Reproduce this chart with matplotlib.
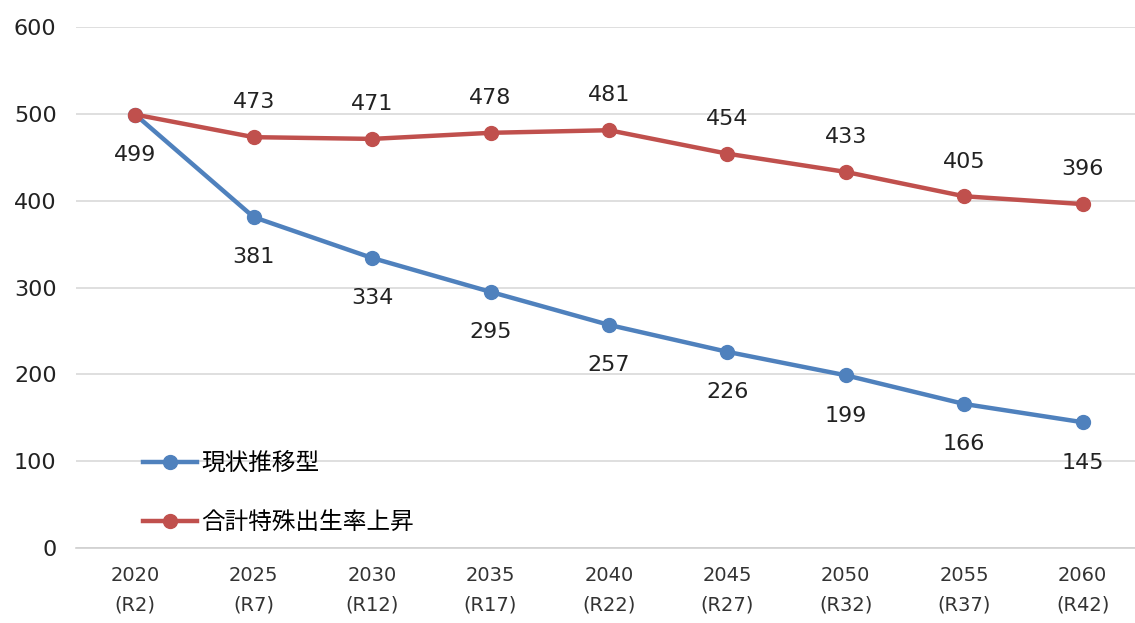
import matplotlib.pyplot as plt

plt.rcParams['font.family'] = ['DejaVu Sans', 'Noto Sans CJK JP']

years = ["2020", "2025", "2030", "2035", "2040", "2045", "2050", "2055", "2060"]
reiwa = ["(R2)", "(R7)", "(R12)", "(R17)", "(R22)", "(R27)", "(R32)", "(R37)", "(R42)"]
current_trend = [499, 381, 334, 295, 257, 226, 199, 166, 145]
birthrate_up = [499, 473, 471, 478, 481, 454, 433, 405, 396]

blue = '#4F81BD'
red = '#C0504D'

fig = plt.figure(figsize=(11.35, 6.23), dpi=100)
ax = fig.add_axes([0.067, 0.12, 0.939, 0.837])

x = list(range(len(years)))
ax.plot(x, current_trend, color=blue, lw=3.2, marker='o', ms=10, label='現状推移型', zorder=3)
ax.plot(x, birthrate_up, color=red, lw=3.2, marker='o', ms=10, label='合計特殊出生率上昇', zorder=3)

# labels: blue below, red above (the shared 2020 point shows only one)
for i, v in enumerate(current_trend):
    ax.annotate(str(v), (i, v), xytext=(0, -29), textcoords='offset points',
                ha='center', va='center', fontsize=16, color='#222222')
for i, v in enumerate(birthrate_up):
    if i == 0:
        continue
    ax.annotate(str(v), (i, v), xytext=(0, 25), textcoords='offset points',
                ha='center', va='center', fontsize=16, color='#222222')

ax.set_xlim(-0.5, len(years) - 0.5)
ax.set_ylim(0, 600)
ax.set_yticks(range(0, 601, 100))
ax.set_xticks(x)
ax.set_xticklabels([f"{y}\n{r}" for y, r in zip(years, reiwa)], fontsize=14,
                   linespacing=1.7, color='#333333')
ax.tick_params(axis='y', labelsize=16, colors='#222222', length=0, pad=14)
ax.tick_params(axis='x', length=0, pad=13)

ax.grid(axis='y', color='#d9d9d9', lw=1.2)
ax.set_axisbelow(True)
for s in ['top', 'right', 'left']:
    ax.spines[s].set_visible(False)
ax.spines['bottom'].set_color('#d0d0d0')
ax.spines['bottom'].set_linewidth(1.2)

ax.legend(loc='lower left', bbox_to_anchor=(0.043, -0.013), frameon=False, fontsize=17,
          labelspacing=1.47, handlelength=2.3, handletextpad=0.17)

fig.savefig('out.png', dpi=100)
